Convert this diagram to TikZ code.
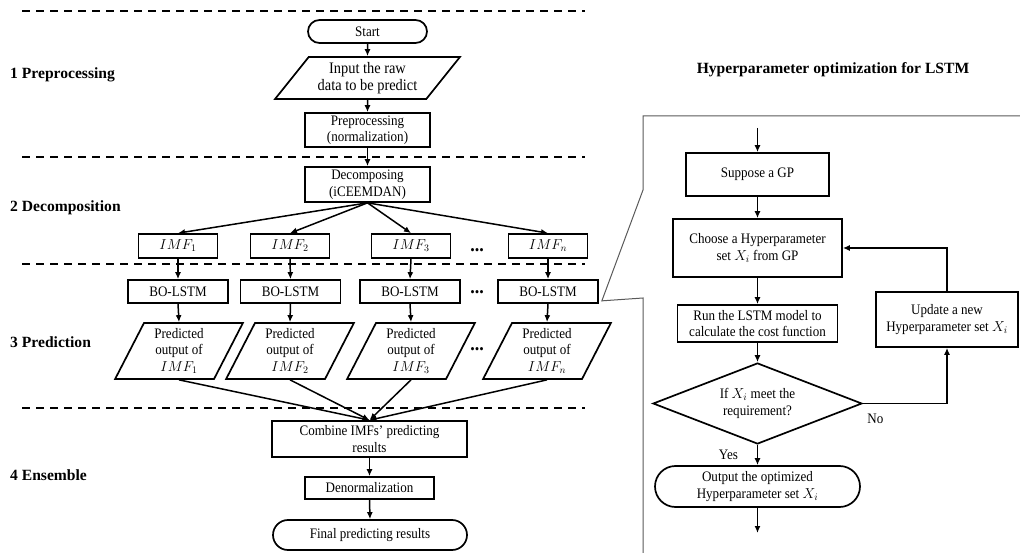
\documentclass[tikz,border=0pt]{standalone}
\usepackage{fontspec}
\setmainfont[FakeStretch=0.9]{Liberation Serif}
\newfontfamily\secfont{Liberation Serif}
\usetikzlibrary{positioning,shapes.geometric,shapes.misc,arrows.meta}

\begin{document}
\begin{tikzpicture}[x=1pt,y=-1pt,
  font=\fontsize{14.5}{16.5}\selectfont,
  box/.style={draw,line width=1.7pt,align=center,inner sep=1pt},
  term/.style={box,rounded rectangle},
  io/.style={box,trapezium,trapezium stretches=true},
  cond/.style={box,diamond,aspect=2.6,inner sep=0pt},
  arr/.style={line width=1.5pt,-{Latex[length=7pt,width=6pt]}},
  secline/.style={line width=1.5pt,dash pattern=on 8pt off 6pt},
  panel/.style={draw=black!65,line width=1pt},
  sec/.style={font=\secfont\bfseries\fontsize{15.6}{18}\selectfont,anchor=west,inner sep=0pt},
  more/.style={font=\bfseries\fontsize{20}{20}\selectfont,inner sep=0pt,anchor=base}
]
\path[use as bounding box] (0,0) rectangle (1020,553);

% section separators and labels
\foreach \yy in {11,157,264,408}
  \draw[secline] (22,\yy) -- (585,\yy);
\node[sec] (lab1) at (10,75) {1 Preprocessing};
\node[sec] (lab2) at (10,208) {2 Decomposition};
\node[sec] (lab3) at (10,342) {3 Prediction};
\node[sec] (lab4) at (10,475) {4 Ensemble};

% 1 preprocessing
\node[term,minimum width=121,minimum height=23] (start) at (367.5,31.5) {Start};
\node[io,trapezium left angle=48.6,trapezium right angle=131.4,minimum width=185,minimum height=42,
  font=\fontsize{16}{16.5}\selectfont] (raw) at (367.5,78) {Input the raw\\data to be predict};
\node[box,minimum width=125,minimum height=34] (prep) at (367.5,130) {Preprocessing\\(normalization)};

% 2 decomposition
\node[box,minimum width=79,minimum height=24] (imf1) at (178,246) {$IMF_1$};
\node[box,minimum width=125,minimum height=35] (dec) at (367.5,184.5) {Decomposing\\(iCEEMDAN)};
\node[box,minimum width=79,minimum height=24] (imf2) at (290,246) {$IMF_2$};
\node[box,minimum width=79,minimum height=24] (imf3) at (411,246) {$IMF_3$};
\node[box,minimum width=79,minimum height=24] (imfn) at (548,246) {$IMF_n$};
\node[more] (more1) at (477,252) {...};

% 3 prediction
\node[box,minimum width=100,minimum height=23] (bo1) at (178,291.5) {BO-LSTM};
\node[box,minimum width=100,minimum height=23] (bo2) at (290.5,291.5) {BO-LSTM};
\node[box,minimum width=100,minimum height=23] (bo3) at (410,291.5) {BO-LSTM};
\node[box,minimum width=100,minimum height=23] (bon) at (548,291.5) {BO-LSTM};
\node[more] (more2) at (477,294) {...};
\foreach \i/\xx in {1/179,2/290,3/411,n/547}
  \node[io,trapezium left angle=65.9,trapezium right angle=114.1,minimum width=129,minimum height=56]
    (pred\i) at (\xx,351) {Predicted\\output of\\$IMF_\i$};
\node[more] (more3) at (477,350) {...};

% 4 ensemble
\node[box,minimum width=195,minimum height=36] (comb) at (369.5,439) {Combine IMFs' predicting\\results};
\node[box,minimum width=129,minimum height=22] (denorm) at (369.5,488) {Denormalization};
\node[term,minimum width=196,minimum height=30] (final) at (370,535) {Final predicting results};

\draw[arr] (start.south) -- (raw.north);
\draw[arr] (raw.south) -- (prep.north);
\draw[arr] (prep.south) -- (dec.north);
\foreach \i in {1,2,3,n} {
  \draw[arr] (dec.south) -- (imf\i.north);
  \draw[arr] (imf\i.south) -- (bo\i.north);
  \draw[arr] (bo\i.south) -- (pred\i.north);
  \draw[arr] (pred\i.south) -- (comb.north);
}
\draw[arr] (comb.south) -- (denorm.north);
\draw[arr] (denorm.south) -- (final.north);

% hyperparameter optimization
\node[font=\secfont\bfseries\fontsize{15.6}{18}\selectfont] (title) at (833,70) {Hyperparameter optimization for LSTM};
\coordinate (zoomtip) at ([xshift=3pt,yshift=3pt]bon.south east);
\draw[panel] (1020,116) -- (643,116) -- (643,190) -- (zoomtip) -- (643,298) -- (643,553);

\node[box,minimum width=143,minimum height=43] (gp) at (757.5,174.5) {Suppose a GP};
\node[box,minimum width=169,minimum height=58] (choose) at (757.5,248) {Choose a Hyperparameter\\set $X_i$ from GP};
\node[box,minimum width=160,minimum height=37] (run) at (757.5,323.5) {Run the LSTM model to\\calculate the cost function};
\node[cond,minimum width=209,minimum height=81] (dia) at (757.5,403.5) {If $X_i$ meet the\\requirement?};
\node[term,minimum width=207,minimum height=41] (opt) at (757.5,486.5) {Output the optimized\\Hyperparameter set $X_i$};
\node[box,minimum width=142,minimum height=55] (upd) at (947,319.5) {Update a new\\Hyperparameter set $X_i$};
\node[below right=7pt and 1pt of dia.east] (no) {No};
\node[below left=2pt and 16pt of dia.south] (yes) {Yes};

\coordinate (gpin) at (757.5,128);
\coordinate (optout) at (757.5,533);
\draw[arr] (gpin) -- (gp.north);
\draw[arr] (gp.south) -- (choose.north);
\draw[arr] (choose.south) -- (run.north);
\draw[arr] (run.south) -- (dia.north);
\draw[arr] (dia.south) -- (opt.north);
\draw[arr] (opt.south) -- (optout);
\draw[arr] (dia.east) -| (upd.south);
\draw[arr] (upd.north) |- (choose.east);
\end{tikzpicture}
\end{document}
